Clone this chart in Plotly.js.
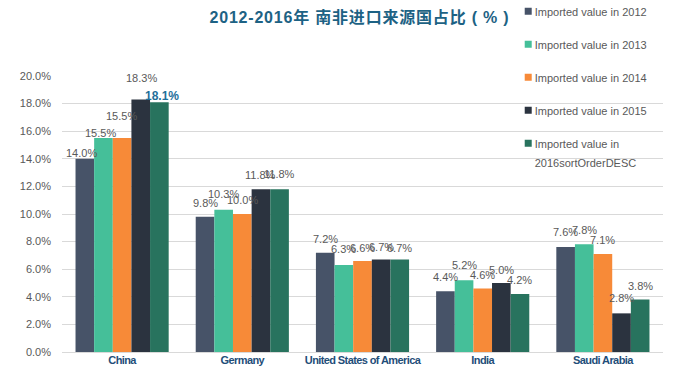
<!DOCTYPE html>
<html><head><meta charset="utf-8">
<script src="https://cdn.plot.ly/plotly-3.0.1.min.js"></script>
<style>
body{margin:0;padding:0;background:#fff;}
#chart{width:684px;height:384px;}
.xtick text{letter-spacing:-0.6px;}
.gtitle{letter-spacing:0.8px;}
</style>
</head><body>
<div id="chart"></div>
<script>
const categories = ["China", "Germany", "United States of America", "India", "Saudi Arabia"];
const seriesNames = ["Imported value in 2012", "Imported value in 2013", "Imported value in 2014", "Imported value in 2015", "Imported value in<br>2016sortOrderDESC"];
const v2012 = [14.0, 9.8, 7.2, 4.4, 7.6];
const v2013 = [15.5, 10.3, 6.3, 5.2, 7.8];
const v2014 = [15.5, 10.0, 6.6, 4.6, 7.1];
const v2015 = [18.3, 11.8, 6.7, 5.0, 2.8];
const v2016 = [18.1, 11.8, 6.7, 4.2, 3.8];
const yTickVals = [0, 2, 4, 6, 8, 10, 12, 14, 16, 18, 20];

// styling (not data): colours and label lifts in pixels above each bar top
const colors = ["#475368", "#45bf99", "#f78a38", "#2b333f", "#28735e"];
const labelLift = [
  [6, 14, 14, 14, 15],
  [5, 16, 16, 15, 14],
  [22, 14, 13, 14, 14],
  [21, 14, 13, 13, 15],
  [6, 15, 12, 14, 14]
];
const labelNudgeX = [
  [-3, 0, 0, 0, 0],
  [-3, 0, 0, 0, 0],
  [-1, 0, 0, 0, 0],
  [1, 0, 0, 0, 0],
  [3, 0, 0, 0, 0]
];

const bargap = 0.225;
const nSeries = 5;
const allSeries = [v2012, v2013, v2014, v2015, v2016];
const traces = allSeries.map((vals, i) => ({
  type: 'bar',
  name: seriesNames[i],
  x: categories,
  y: vals.map(v => v / 100),
  marker: {color: colors[i]},
  legendgroup: 'g' + i,
  hoverinfo: 'none'
}));

const annotations = [];
const slot = (1 - bargap) / nSeries;
allSeries.forEach((vals, i) => {
  vals.forEach((v, j) => {
    const highlight = (i === 4 && j === 0);
    annotations.push({
      x: j + (i - (nSeries - 1) / 2) * slot,
      y: v / 100,
      xref: 'x', yref: 'y',
      text: highlight ? '<b>' + v.toFixed(1) + '%</b>' : v.toFixed(1) + '%',
      showarrow: false,
      xanchor: 'center', yanchor: 'middle',
      xshift: labelNudgeX[i][j],
      yshift: labelLift[i][j],
      font: highlight
        ? {family: 'Liberation Sans, Arial, sans-serif', size: 12, color: '#1f6f9a'}
        : {family: 'Liberation Sans, Arial, sans-serif', size: 11, color: '#595959'}
    });
  });
});

const layout = {
  width: 684, height: 384,
  margin: {l: 62, r: 21, t: 76, b: 32, autoexpand: false},
  paper_bgcolor: '#ffffff', plot_bgcolor: '#ffffff',
  barmode: 'group', bargap: bargap, bargroupgap: 0,
  title: {
    text: '2012-2016年 南非进口来源国占比 ( % )',
    x: 0.495, xref: 'paper', xanchor: 'center', y: 0.955, yanchor: 'middle',
    font: {family: 'Liberation Sans, Noto Sans CJK SC, sans-serif', size: 16, color: '#1d6284', weight: 'bold'}
  },
  xaxis: {
    showgrid: false, zeroline: false, showline: false, ticks: '',
    tickfont: {family: 'Liberation Sans, Arial, sans-serif', size: 11, color: '#1f4e79', weight: 'bold'},
    fixedrange: true
  },
  yaxis: {
    range: [0, 0.2], tickvals: yTickVals.map(v => v / 100), ticktext: yTickVals.map(v => v.toFixed(1) + '%'),
    showgrid: true, gridcolor: '#d9d9d9', gridwidth: 1, zeroline: true, zerolinecolor: '#d9d9d9',
    showline: false, ticks: '', ticklabelstandoff: 10,
    tickfont: {family: 'Liberation Sans, Arial, sans-serif', size: 11, color: '#595959'},
    fixedrange: true
  },
  annotations: annotations,
  showlegend: true,
  legend: {
    x: 0.72, y: 1.284, xanchor: 'left', yanchor: 'top',
    bgcolor: 'rgba(0,0,0,0)', traceorder: 'grouped', tracegroupgap: 14, valign: 'top',
    font: {family: 'Liberation Sans, Arial, sans-serif', size: 11, color: '#595959'}
  }
};

Plotly.newPlot('chart', traces, layout, {displayModeBar: false, staticPlot: true}).then(gd => {
  // small square swatches sitting just before the text, as in the reference
  gd.querySelectorAll('.legend .legendpoints path').forEach(p => {
    p.setAttribute('d', 'M3.5,3.5H-3.5V-3.5H3.5Z');
    const t = p.getAttribute('transform') || '';
    const m = t.match(/translate\(([-\d.]+)[ ,]*([-\d.]*)\)/);
    const yy = m && m[2] ? parseFloat(m[2]) : 0;
    p.setAttribute('transform', 'translate(33.5,' + yy + ')');
  });
  // wider line spacing for the wrapped legend entry
  gd.querySelectorAll('.legend .legendtext tspan.line').forEach((ts, k) => {
    if (k > 0) ts.setAttribute('dy', '1.75em');
  });
});
</script>
</body></html>
